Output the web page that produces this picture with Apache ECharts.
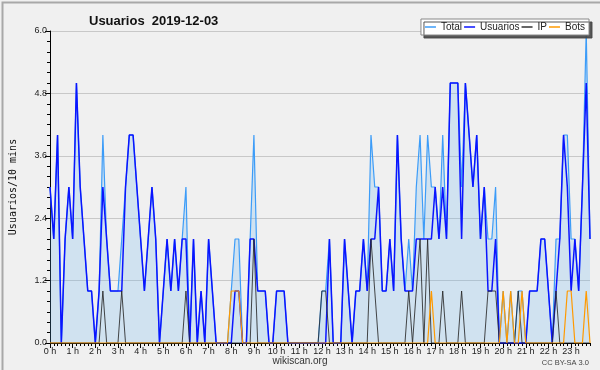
<!DOCTYPE html>
<html>
<head>
<meta charset="utf-8">
<script src="https://cdn.jsdelivr.net/npm/echarts@6/dist/echarts.min.js"></script>
<style>
html,body{margin:0;padding:0;background:#f0f0f0;}
#c{width:600px;height:370px;}
</style>
</head>
<body>
<div id="c"></div>
<script>
// tick labels
const hourLabels = ['0 h','1 h','2 h','3 h','4 h','5 h','6 h','7 h','8 h','9 h','10 h','11 h','12 h','13 h','14 h','15 h','16 h','17 h','18 h','19 h','20 h','21 h','22 h','23 h'];
const minuteSteps = ['00','10','20','30','40','50'];
const yTicks = [0, 1.2, 2.4, 3.6, 4.8, 6.0];

// series values (per 10 minutes, 0:00 .. 23:50)
const total = [
3,2,4,0,2,3,2,5,3,2,1,1,0,1,4,2,1,1,1,2,3,4,4,3,2,1,2,3,2,0,
1,2,1,2,1,2,3,0,2,0,1,0,2,1,0,0,0,0,1,2,2,0,0,2,4,1,1,1,0,0,
1,1,1,0,0,0,0,0,0,0,0,0,1,1,2,0,0,0,2,1,0,1,1,2,1,4,3,3,1,1,
2,1,4,2,1,2,1,3,4,2,4,3,3,2,4,2,5,5,5,3,5,4,3,4,2,3,2,2,3,0,
1,0,1,0,1,1,0,1,1,1,2,2,1,0,2,2,4,4,2,2,1,3,6,2
];
const usuarios = [
3,2,4,0,2,3,2,5,3,2,1,1,0,1,3,2,1,1,1,1,3,4,4,3,2,1,2,3,2,0,
1,2,1,2,1,2,2,0,2,0,1,0,2,1,0,0,0,0,0,1,1,0,0,2,2,1,1,1,0,0,
1,1,1,0,0,0,0,0,0,0,0,0,0,0,2,0,0,0,2,1,0,1,1,2,1,2,2,3,1,1,
2,1,4,2,1,1,1,2,2,2,2,2,3,2,3,2,5,5,5,2,5,4,3,4,2,3,1,1,2,0,
0,0,0,0,0,0,0,1,1,1,2,2,1,0,1,2,4,3,1,2,1,3,5,2
];
const ip = [
0,0,0,0,0,0,0,0,0,0,0,0,0,0,1,0,0,0,0,1,0,0,0,0,0,0,0,0,0,0,
0,0,0,0,0,0,1,0,0,0,0,0,0,0,0,0,0,0,0,0,0,0,0,0,2,0,0,0,0,0,
0,0,0,0,0,0,0,0,0,0,0,0,1,1,0,0,0,0,0,0,0,0,0,0,0,2,1,0,0,0,
0,0,0,0,0,1,0,1,2,0,2,0,0,0,1,0,0,0,0,1,0,0,0,0,0,0,1,1,1,0,
0,0,0,0,1,0,0,0,0,0,0,0,0,0,1,0,0,0,0,0,0,0,0,0
];
const bots = [
0,0,0,0,0,0,0,0,0,0,0,0,0,0,0,0,0,0,0,0,0,0,0,0,0,0,0,0,0,0,
0,0,0,0,0,0,0,0,0,0,0,0,0,0,0,0,0,0,1,1,1,0,0,0,0,0,0,0,0,0,
0,0,0,0,0,0,0,0,0,0,0,0,0,0,0,0,0,0,0,0,0,0,0,0,0,0,0,0,0,0,
0,0,0,0,0,0,0,0,0,0,0,1,0,0,0,0,0,0,0,0,0,0,0,0,0,0,0,0,0,0,
1,0,1,0,0,1,0,0,0,0,0,0,0,0,0,0,0,1,1,0,0,0,1,0
];

const categories = [];
for (let h = 0; h < 24; h++) for (const m of minuteSteps) categories.push(h + ':' + m);

const chart = echarts.init(document.getElementById('c'), null, {renderer: 'canvas'});
const FONT = 'Liberation Sans';
chart.setOption({
  animation: false,
  backgroundColor: '#f0f0f0',
  textStyle: {fontFamily: FONT},
  title: {
    text: 'Usuarios  2019-12-03',
    left: 84, top: 10,
    textStyle: {fontSize: 13, fontWeight: 'bold', color: '#111', fontFamily: FONT}
  },
  legend: {
    data: ['Total', 'Usuarios', 'IP', 'Bots'],
    right: 11, top: 19, width: 200,
    icon: 'rect', itemWidth: 11, itemHeight: 1.5, itemGap: 2,
    padding: [3, 4, 3, 4],
    backgroundColor: '#ffffff', borderColor: '#888', borderWidth: 1,
    shadowColor: 'rgba(70,70,70,0.9)', shadowOffsetX: 3, shadowOffsetY: 3, shadowBlur: 0,
    textStyle: {fontSize: 10, color: '#222', fontFamily: FONT}
  },
  grid: {left: 46, top: 31, right: 10, bottom: 27, containLabel: false},
  xAxis: [{
    type: 'category', data: categories, boundaryGap: false,
    axisLine: {lineStyle: {color: '#000', width: 1}},
    axisTick: {interval: 5, length: 5, lineStyle: {color: '#000'}},
    axisLabel: {interval: 5, margin: 4, fontSize: 9, color: '#222',
      formatter: function (v, i) { return hourLabels[Math.floor(i / 6)]; }},
    splitLine: {show: false}
  }, {
    type: 'category', data: categories, boundaryGap: false, position: 'bottom',
    axisLine: {show: false},
    axisTick: {interval: 0, length: 3, lineStyle: {color: '#000'}},
    axisLabel: {show: false},
    splitLine: {show: false}
  }],
  yAxis: {
    type: 'value', min: yTicks[0], max: yTicks[yTicks.length - 1], interval: yTicks[1],
    name: 'Usuarios/10 mins', nameLocation: 'middle', nameGap: 32, nameRotate: 90,
    nameTextStyle: {fontFamily: 'DejaVu Sans Mono', fontSize: 10, color: '#111'},
    axisLine: {show: true, lineStyle: {color: '#000'}},
    axisTick: {show: true, length: 5, lineStyle: {color: '#000'}},
    minorTick: {show: true, splitNumber: 6, length: 3, lineStyle: {color: '#000'}},
    axisLabel: {fontSize: 9, color: '#222', margin: 3, formatter: function (v) { return v.toFixed(1); }},
    splitLine: {show: true, lineStyle: {color: '#c8c8c8', width: 1}}
  },
  series: [{
    name: 'Total', type: 'line', data: total, showSymbol: false, color: '#3c9cf8',
    lineStyle: {width: 1.2, color: '#3c9cf8'},
    areaStyle: {color: 'rgba(100,180,240,0.32)'}
  }, {
    name: 'Usuarios', type: 'line', data: usuarios, showSymbol: false, color: '#0a14ff',
    lineStyle: {width: 1.5, color: '#0a14ff'}
  }, {
    name: 'IP', type: 'line', data: ip, showSymbol: false, color: '#333333',
    lineStyle: {width: 1, color: 'rgba(40,40,40,0.85)'}
  }, {
    name: 'Bots', type: 'line', data: bots, showSymbol: false, color: '#ff9a00',
    lineStyle: {width: 1.2, color: '#ff9a00'}
  }],
  graphic: [{
    type: 'rect', left: 0, top: 0, silent: true,
    shape: {x: 0.5, y: 0.5, width: 599, height: 369},
    style: {fill: 'none', stroke: '#a8a8a8', lineWidth: 2}
  }, {
    type: 'text', left: 'center', top: 356,
    style: {text: 'wikiscan.org', font: '10px "Liberation Sans"', fill: '#333'}
  }, {
    type: 'text', right: 11, top: 359,
    style: {text: 'CC BY-SA 3.0', font: '7.5px "Liberation Sans"', fill: '#444'}
  }]
});
</script>
</body>
</html>
